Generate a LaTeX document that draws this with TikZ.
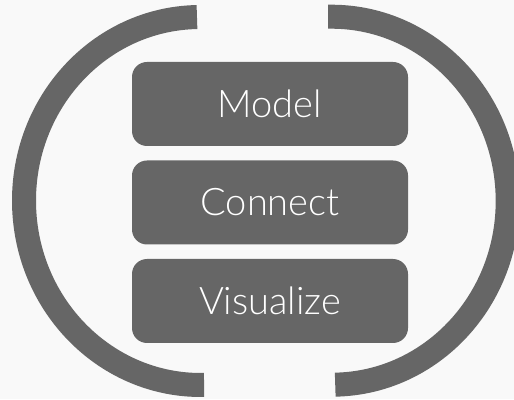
\documentclass[tikz,border=0pt]{standalone}
\usepackage{fontspec}
\setmainfont{Lato Light}
\definecolor{bg}{HTML}{F9F9F9}
\definecolor{dark}{HTML}{666666}
\tikzset{
  bracket/.style={draw=dark, line width=24pt, line cap=butt},
  stagebox/.style={fill=dark, rounded corners=15pt, minimum width=276pt, minimum height=84pt, inner sep=0pt, text=white, font=\fontsize{38}{42}\selectfont}
}
\begin{document}
\begin{tikzpicture}[x=1pt,y=1pt]
\useasboundingbox (0,0) rectangle (514,399);
\clip (0,0) rectangle (514,399);
\fill[bg] (0,0) rectangle (514,399);
\begin{scope}[shift={(200.5,198)}, rotate=1.1]
  \draw[bracket] (0,184) arc[start angle=90, end angle=270, x radius=176.5, y radius=184];
\end{scope}
\begin{scope}[shift={(331.7,198.3)}, rotate=1.1]
  \draw[bracket] (0,184) arc[start angle=90, end angle=-90, x radius=176, y radius=184];
\end{scope}
\node[stagebox] (model) at (270,295) {Model};
\node[stagebox] (connect) at (270,196.5) {Connect};
\node[stagebox] (visualize) at (270,98) {Visualize};
\end{tikzpicture}
\end{document}
